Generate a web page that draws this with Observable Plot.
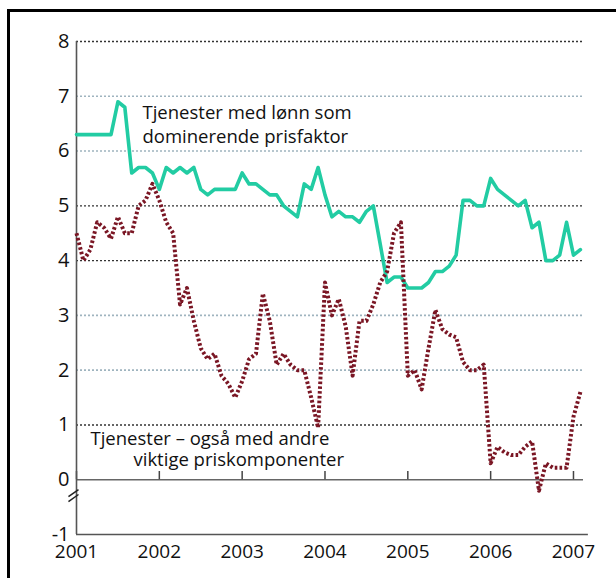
<!DOCTYPE html>
<html><head><meta charset="utf-8">
<script src="https://cdn.jsdelivr.net/npm/d3@7"></script>
<script src="https://cdn.jsdelivr.net/npm/@observablehq/plot@0.6"></script>
<style>
body{margin:0;background:#fff;overflow:hidden;width:616px;height:578px;position:relative;}
#chart{position:absolute;left:0;top:0;}
#frame{position:absolute;left:7px;top:9px;width:700px;height:700px;border:3px solid #000;box-sizing:border-box;pointer-events:none;}
</style></head><body><div id="chart"></div><div id="frame"></div>
<script>
// Monthly observations, January 2001 – February 2007 (percent, 12-month change)
const startYear = 2001;
const wageServices = [
  6.3, 6.3, 6.3, 6.3, 6.3, 6.3, 6.9, 6.8, 5.6, 5.7, 5.7, 5.6,
  5.3, 5.7, 5.6, 5.7, 5.6, 5.7, 5.3, 5.2, 5.3, 5.3, 5.3, 5.3,
  5.6, 5.4, 5.4, 5.3, 5.2, 5.2, 5.0, 4.9, 4.8, 5.4, 5.3, 5.7,
  5.2, 4.8, 4.9, 4.8, 4.8, 4.7, 4.9, 5.0, 4.3, 3.6, 3.7, 3.7,
  3.5, 3.5, 3.5, 3.6, 3.8, 3.8, 3.9, 4.1, 5.1, 5.1, 5.0, 5.0,
  5.5, 5.3, 5.2, 5.1, 5.0, 5.1, 4.6, 4.7, 4.0, 4.0, 4.1, 4.7,
  4.1, 4.2
];
const otherServices = [
  4.5, 4.0, 4.2, 4.7, 4.6, 4.4, 4.8, 4.5, 4.5, 5.0, 5.1, 5.4,
  5.1, 4.7, 4.5, 3.2, 3.5, 2.9, 2.4, 2.2, 2.3, 1.9, 1.75, 1.5,
  1.8, 2.2, 2.3, 3.4, 2.9, 2.1, 2.3, 2.1, 2.0, 2.0, 1.5, 0.95,
  3.6, 3.0, 3.3, 2.8, 1.9, 2.9, 2.9, 3.2, 3.6, 3.8, 4.5, 4.7,
  1.9, 2.0, 1.65, 2.4, 3.1, 2.75, 2.65, 2.6, 2.15, 2.0, 2.0, 2.1,
  0.3, 0.6, 0.5, 0.45, 0.45, 0.6, 0.7, -0.2, 0.3, 0.22, 0.22, 0.22,
  1.15, 1.6
];
const yTicks = [-1, 0, 1, 2, 3, 4, 5, 6, 7, 8];
const years = [2001, 2002, 2003, 2004, 2005, 2006, 2007];
const darkGrid = [1, 4, 5, 8];
const lightGrid = [2, 3, 6, 7];
const label1 = ["Tjenester med lønn som", "dominerende prisfaktor"];
const label2 = ["Tjenester – også med andre", "viktige priskomponenter"];

const toRows = (vals) => vals.map((v, i) => ({x: startYear + i / 12, y: v}));
const wageRows = toRows(wageServices);
const otherRows = toRows(otherServices);

const xEnd = 2007.121;
const breakMarks = [
  {x1: 2000.903, y1: -0.31, x2: 2001.024, y2: -0.18},
  {x1: 2000.903, y1: -0.40, x2: 2001.024, y2: -0.27}
];
const labelRows = [
  {x: 2001.797, y: 6.69, t: label1[0]},
  {x: 2001.797, y: 6.25, t: label1[1]},
  {x: 2001.169, y: 0.74, t: label2[0]},
  {x: 2001.688, y: 0.36, t: label2[1]}
];

const font = "'Open Sans', 'Noto Sans', sans-serif";
const chart = Plot.plot({
  width: 616,
  height: 578,
  marginLeft: 76,
  marginRight: 616 - 583,
  marginTop: 41,
  marginBottom: 44,
  style: {fontFamily: font, background: "transparent", color: "#000"},
  x: {domain: [startYear, xEnd], axis: null},
  y: {domain: [-1, 8], axis: null},
  marks: [
    Plot.ruleY(lightGrid, {x1: startYear, x2: xEnd, stroke: "#9fb4bf", strokeWidth: 1.6, strokeDasharray: "2,2"}),
    Plot.ruleY(darkGrid, {x1: startYear, x2: xEnd, stroke: "#333", strokeWidth: 1.4, strokeDasharray: "2,2"}),
    Plot.ruleY([0], {x1: startYear, x2: xEnd, stroke: "#666", strokeWidth: 1.6}),
    Plot.ruleX(years, {y1: 0, y2: 0.15, stroke: "#444", strokeWidth: 1.5}),
    Plot.ruleY([-1], {x1: startYear, x2: 2007.18, stroke: "#555", strokeWidth: 1.6}),
    Plot.ruleX([startYear], {y1: -1, y2: 8, stroke: "#555", strokeWidth: 1.6}),
    Plot.link(breakMarks, {x1: "x1", y1: "y1", x2: "x2", y2: "y2", stroke: "#222", strokeWidth: 1.5}),
    Plot.line(wageRows, {x: "x", y: "y", stroke: "#22cca3", strokeWidth: 3.6}),
    Plot.line(otherRows, {x: "x", y: "y", stroke: "#7a1624", strokeWidth: 4, strokeDasharray: "2.6,2.2", strokeLinecap: "butt"}),
    Plot.text(labelRows, {x: "x", y: "y", text: "t", textAnchor: "start", lineAnchor: "middle", fontSize: 18.5, fill: "#111"}),
    Plot.axisY(yTicks, {tickSize: 0, tickPadding: 7, fontSize: 20, fill: "#111", tickFormat: d => String(d), anchor: "left"}),
    Plot.axisX(years, {tickSize: 0, tickPadding: 10, fontSize: 19, fill: "#111", tickFormat: d => String(d), anchor: "bottom"})
  ]
});
document.getElementById("chart").append(chart);
</script>
</body></html>
